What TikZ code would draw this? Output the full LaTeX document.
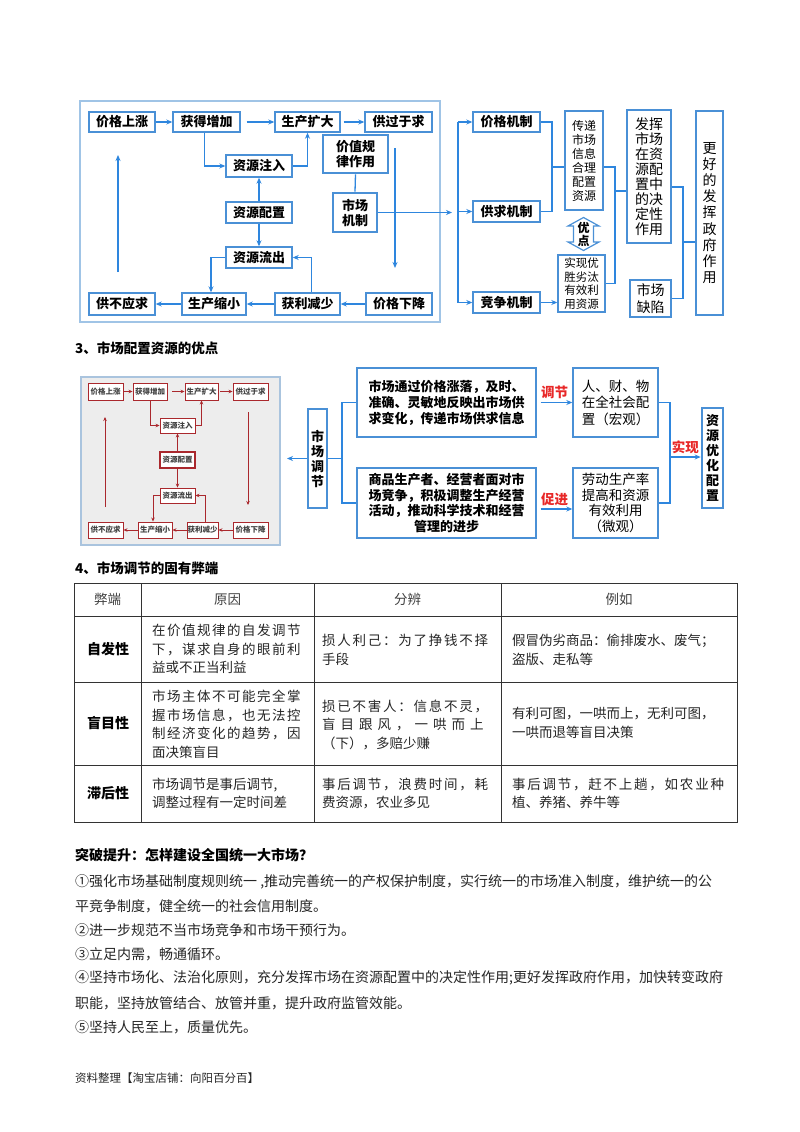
\documentclass[tikz,border=0pt]{standalone}
\usepackage{fontspec}
\setmainfont{Noto Sans CJK SC}
\usetikzlibrary{arrows.meta,calc}
\definecolor{bblue}{RGB}{74,144,214}
\definecolor{ablue}{RGB}{46,134,222}
\definecolor{frblue}{RGB}{160,196,230}
\definecolor{dred}{RGB}{170,40,45}
\definecolor{rtext}{RGB}{232,40,40}
\tikzset{
  bx/.style={draw=bblue, line width=1.4pt, fill=white, inner sep=0pt, font=\bfseries\fontsize{13}{15}\selectfont, align=center},
  tbx/.style={bx, line width=2.6pt},
  rbx/.style={bx, font=\fontsize{12}{14}\selectfont},
  arr/.style={draw=ablue, line width=1.3pt, -{Stealth[length=6pt,width=5pt]}},
  ln/.style={draw=ablue, line width=1.3pt},
  sbx/.style={draw=dred, line width=0.9pt, fill=white, inner sep=0pt, font=\bfseries\fontsize{7.5}{9}\selectfont, text=black!75},
  sarr/.style={draw=dred, line width=0.9pt, -{Stealth[length=4pt,width=3.5pt]}},
  rlab/.style={text=rtext, font=\bfseries\fontsize{13.5}{15}\selectfont, inner sep=1pt},
  tcell/.style={anchor=west, align=left, inner sep=0pt, font=\fontsize{13.5}{18.5}\selectfont, text=black!85},
  thead/.style={inner sep=0pt, font=\fontsize{13.5}{16}\selectfont, text=black!75},
  tlab/.style={inner sep=0pt, font=\bfseries\fontsize{14}{16}\selectfont},
  body/.style={anchor=west, inner sep=0pt, font=\fontsize{14}{16}\selectfont, text=black!85},
  head/.style={anchor=west, inner sep=0pt, font=\bfseries\fontsize{13.5}{16}\selectfont},
}
\begin{document}
\begin{tikzpicture}[x=1pt,y=-1pt]
\useasboundingbox[fill=white] (0,0) rectangle (800,1132);

% ===================== top diagram =====================
\draw[frblue, line width=1.2pt] (80,101) rectangle (440,322);
\node[bx, minimum width=66, minimum height=20] (p1) at (122,122) {价格上涨};
\node[bx, minimum width=67, minimum height=20] (p2) at (206.5,122) {获得增加};
\node[bx, minimum width=65, minimum height=20] (p3) at (307.5,122) {生产扩大};
\node[bx, minimum width=67, minimum height=20] (p4) at (398.5,122) {供过于求};
\node[bx, minimum width=66, minimum height=22] (r1) at (259,166) {资源注入};
\node[tbx, minimum width=66, minimum height=21] (r2) at (259,212.5) {资源配置};
\node[bx, minimum width=66, minimum height=21] (r3) at (259,257.5) {资源流出};
\node[bx, minimum width=66, minimum height=22] (q1) at (122,304) {供不应求};
\node[bx, minimum width=64, minimum height=22] (q2) at (214,304) {生产缩小};
\node[bx, minimum width=65, minimum height=22] (q3) at (307.5,304) {获利减少};
\node[bx, minimum width=66, minimum height=22] (q4) at (399,304) {价格下降};
\node[tbx, minimum width=65, minimum height=38] (v) at (355.5,154) {价值规\\律作用};
\node[tbx, minimum width=44, minimum height=39] (m) at (355,212.5) {市场\\机制};

\draw[arr] (p1.east) -- (p2.west);
\draw[arr, shorten <=6pt] (p2.east) -- (p3.west);
\draw[arr, shorten <=3pt] (p3.east) -- (p4.west);
\draw[arr] ([xshift=-2pt]p2.south) |- (r1.west);
\draw[arr] (r1.east) -| (p3.south);
\draw[arr] (r2.north) -- (r1.south);
\draw[arr] (r2.south) -- (r3.north);
\draw[arr] (r3.west) -| ([xshift=-3pt]q2.north);
\draw[arr] ([xshift=4pt]q3.north) |- (r3.east);
\draw[arr] (q4.west) -- (q3.east);
\draw[arr] (q3.west) -- (q2.east);
\draw[arr] (q2.west) -- (q1.east);
\coordinate (u1) at (118,272); \coordinate (u2) at (118,155);
\draw[arr] (u1) -- (u2);
\coordinate (d1) at (395,148); \coordinate (d2) at (395,268);
\draw[arr] (d1) -- (d2);
\draw[ln] (v.south) -- (m.north);

% right part
\node[bx, minimum width=67, minimum height=20] (k1) at (506.5,122) {价格机制};
\node[bx, minimum width=67, minimum height=21] (k2) at (506.5,211.5) {供求机制};
\node[bx, minimum width=67, minimum height=21] (k3) at (506.5,302.5) {竞争机制};
\node[rbx, minimum width=38, minimum height=99] (t1) at (584,160.5) {传递\\市场\\信息\\合理\\配置\\资源};
\draw[bblue, line width=1.2pt, fill=white] (573.5,226) -- (568,226) -- (583.5,217.5) -- (599,226) -- (593.5,226) -- (593.5,242) -- (599,242) -- (583.5,250.5) -- (568,242) -- (573.5,242) -- cycle;
\node[inner sep=0pt, align=center, font=\bfseries\fontsize{12}{13}\selectfont] (yd) at (583.5,234) {优\\点};
\node[rbx, minimum width=47, minimum height=57, font=\fontsize{11.5}{13.5}\selectfont] (t2) at (581.5,283.5) {实现优\\胜劣汰\\有效利\\用资源};
\node[rbx, minimum width=44, minimum height=133, font=\fontsize{14}{15}\selectfont] (f1) at (649,176.5) {发挥\\市场\\在资\\源配\\置中\\的决\\定性\\作用};
\node[rbx, minimum width=41, minimum height=37, font=\fontsize{14}{16.5}\selectfont] (f2) at (650.5,298.5) {市场\\缺陷};
\node[rbx, minimum width=27, minimum height=204, font=\fontsize{14}{16.2}\selectfont] (g) at (709.5,213) {更\\好\\的\\发\\挥\\政\\府\\作\\用};

\coordinate (ah) at (452,212.5);
\draw[arr] (m.east) -- (ah);
\coordinate (brx) at (458,0);
\draw[ln] (k1.west -| brx) -- (k3.west -| brx);
\draw[arr] (k1.west -| brx) -- (k1.west);
\draw[arr] (k2.west -| brx) -- (k2.west);
\draw[arr] (k3.west -| brx) -- (k3.west);
\coordinate (j1) at (552,167);
\draw[ln] (k1.east) -| (j1) |- (k2.east);
\draw[ln] (j1) -- (j1 -| t1.west);
\draw[arr] (k3.east) -- (k3.east -| t2.west);
\coordinate (j2) at (615,191);
\draw[ln] ([yshift=-6.5pt]t1.east) -| (j2) |- (t2.east);
\draw[ln] (j2) -- (j2 -| f1.west);
\coordinate (j3) at (683,242);
\draw[ln] ([yshift=-10.5pt]f1.east) -| (j3) |- (f2.east);
\draw[ln] (j3) -- (j3 -| g.west);

% ===================== heading 3 =====================
\node[head] (h3) at (75,348) {3、市场配置资源的优点};

% ===================== middle diagram =====================
\draw[draw={rgb,255:red,170;green,196;blue,222}, line width=1.5pt, fill=black!7] (81,377) rectangle (280,545);
\node[sbx, minimum width=35, minimum height=17] (a1) at (105.5,391.5) {价格上涨};
\node[sbx, minimum width=34, minimum height=17] (a2) at (150,391.5) {获得增加};
\node[sbx, minimum width=33, minimum height=17] (a3) at (201.5,391.5) {生产扩大};
\node[sbx, minimum width=35, minimum height=17] (a4) at (250.5,391.5) {供过于求};
\node[sbx, minimum width=35, minimum height=15] (b1) at (177.5,425.5) {资源注入};
\node[sbx, line width=1.8pt, minimum width=35, minimum height=16] (b2) at (177.5,460) {资源配置};
\node[sbx, minimum width=35, minimum height=15] (b3) at (177.5,495.5) {资源流出};
\node[sbx, minimum width=35, minimum height=16] (c1) at (105.5,530) {供不应求};
\node[sbx, minimum width=34, minimum height=16] (c2) at (155,530) {生产缩小};
\node[sbx, minimum width=31, minimum height=16] (c3) at (202.5,530) {获利减少};
\node[sbx, minimum width=35, minimum height=16] (c4) at (250.5,530) {价格下降};
\draw[sarr] (a1.east) -- (a2.west);
\draw[sarr, shorten <=5pt] (a2.east) -- (a3.west);
\draw[sarr, shorten <=2pt] (a3.east) -- (a4.west);
\draw[sarr] (a2.south) |- (b1.west);
\draw[sarr] (b1.east) -| (a3.south);
\draw[sarr] (b2.north) -- (b1.south);
\draw[sarr] (b2.south) -- (b3.north);
\draw[sarr] (b3.west) -| ([xshift=-2pt]c2.north);
\draw[sarr] ([xshift=3pt]c3.north) |- (b3.east);
\draw[sarr] (c4.west) -- (c3.east);
\draw[sarr] (c3.west) -- (c2.east);
\draw[sarr] (c2.west) -- (c1.east);
\coordinate (e1) at (105,507); \coordinate (e2) at (105,417);
\draw[sarr] (e1) -- (e2);
\coordinate (e3) at (248,412); \coordinate (e4) at (248,505);
\draw[sarr] (e3) -- (e4);

\node[tbx, minimum width=19, minimum height=99] (mt) at (317.5,458.5) {市\\场\\调\\节};
\coordinate (mtl) at (287,458.5);
\draw[arr] (mt.west) -- (mtl);
\node[bx, minimum width=179, minimum height=69, font=\bfseries\fontsize{13}{16}\selectfont] (tb1) at (446.5,402.5) {市场通过价格涨落，及时、\\准确、灵敏地反映出市场供\\求变化，传递市场供求信息};
\node[bx, minimum width=179, minimum height=70, font=\bfseries\fontsize{13}{15.5}\selectfont] (tb2) at (446.5,503) {商品生产者、经营者面对市\\场竞争，积极调整生产经营\\活动，推动科学技术和经营\\管理的进步};
\coordinate (mj) at (342,458.5);
\draw[ln] (mt.east) -- (mj);
\draw[ln] (tb1.west) -| (mj) |- (tb2.west);
\node[rbx, minimum width=85, minimum height=69, font=\fontsize{13.5}{16.5}\selectfont] (sb1) at (615.5,402.5) {人、财、物\\在全社会配\\置（宏观）};
\node[rbx, minimum width=85, minimum height=70, font=\fontsize{13.5}{15.5}\selectfont] (sb2) at (615.5,503) {劳动生产率\\提高和资源\\有效利用\\（微观）};
\draw[arr, shorten <=4pt] (tb1.east) -- node[rlab, above=2pt] (l1) {调节} (sb1.west);
\draw[arr, shorten <=4pt] ([yshift=-6pt]tb2.east) -- node[rlab, above=2pt] (l2) {促进} ([yshift=-6pt]sb2.west);
\node[tbx, minimum width=21, minimum height=100] (ro) at (712.5,458) {资\\源\\优\\化\\配\\置};
\coordinate (mk) at (670,457);
\draw[ln] (sb1.east) -| (mk) |- (sb2.east);
\draw[arr] (mk) -- node[rlab, above=2pt] (l3) {实现} (mk -| ro.west);

% ===================== heading 4 =====================
\node[head] (h4) at (75,568) {4、市场调节的固有弊端};

% ===================== table =====================
\draw[black!80, line width=0.9pt] (74,583) rectangle (737,822);
\foreach \yy in {616,682,765} \draw[black!80, line width=0.8pt] (74,\yy) -- (737,\yy);
\foreach \xx in {141,314,501} \draw[black!80, line width=0.8pt] (\xx,583) -- (\xx,822);
\node[thead] (th1) at (107.5,599.5) {弊端};
\node[thead] (th2) at (227.5,599.5) {原因};
\node[thead] (th3) at (407.5,599.5) {分辨};
\node[thead] (th4) at (619,599.5) {例如};
\node[tlab] (tl1) at (108,649) {自发性};
\node[tlab] (tl2) at (108,723.5) {盲目性};
\node[tlab] (tl3) at (108,793.5) {滞后性};

\node[tcell] (c11) at (152,649) {{\addfontfeature{LetterSpace=11}在价值规律的自发调节}\\{\addfontfeature{LetterSpace=11}下，谋求自身的眼前利}\\益或不正当利益};
\node[tcell] (c12) at (322,650) {{\addfontfeature{LetterSpace=13}损人利己：为了挣钱不择}\\手段};
\node[tcell] (c13) at (512,650) {假冒伪劣商品：偷排废水、废气；\\盗版、走私等};
\node[tcell] (c21) at (152,724.5) {{\addfontfeature{LetterSpace=11}市场主体不可能完全掌}\\{\addfontfeature{LetterSpace=11}握市场信息，也无法控}\\{\addfontfeature{LetterSpace=11}制经济变化的趋势，因}\\面决策盲目};
\node[tcell] (c22) at (322,724.5) {{\addfontfeature{LetterSpace=13}损已不害人：信息不灵，}\\{\addfontfeature{LetterSpace=37}盲目跟风，一哄而上}\\（下），多赔少赚};
\node[tcell] (c23) at (512,723) {有利可图，一哄而上，无利可图，\\一哄而退等盲目决策};
\node[tcell] (c31) at (152,793.5) {市场调节是事后调节,\\调整过程有一定时间差};
\node[tcell] (c32) at (322,793.5) {{\addfontfeature{LetterSpace=13}事后调节，浪费时间，耗}\\费资源，农业多见};
\node[tcell] (c33) at (512,793.5) {{\addfontfeature{LetterSpace=13}事后调节，赶不上趟，如农业种}\\植、养猪、养牛等};

% ===================== bottom text =====================
\node[head, font=\bfseries\fontsize{14}{16}\selectfont] (bh) at (75,855) {突破提升：怎样建设全国统一大市场？};
\node[body] (b01) at (75,882) {①强化市场基础制度规则统一 ,推动完善统一的产权保护制度，实行统一的市场准入制度，维护统一的公};
\node[body] (b02) at (75,906) {平竞争制度，健全统一的社会信用制度。};
\node[body] (b03) at (75,930) {②进一步规范不当市场竞争和市场干预行为。};
\node[body] (b04) at (75,954) {③立足内需，畅通循环。};
\node[body] (b05) at (75,978) {④坚持市场化、法治化原则，充分发挥市场在资源配置中的决定性作用;更好发挥政府作用，加快转变政府};
\node[body] (b06) at (75,1003) {职能，坚持放管结合、放管并重，提升政府监管效能。};
\node[body] (b07) at (75,1027) {⑤坚持人民至上，质量优先。};
\node[body, font=\fontsize{11.5}{13}\selectfont] (ft) at (75,1078) {资料整理【淘宝店铺：向阳百分百】};
\end{tikzpicture}
\end{document}
